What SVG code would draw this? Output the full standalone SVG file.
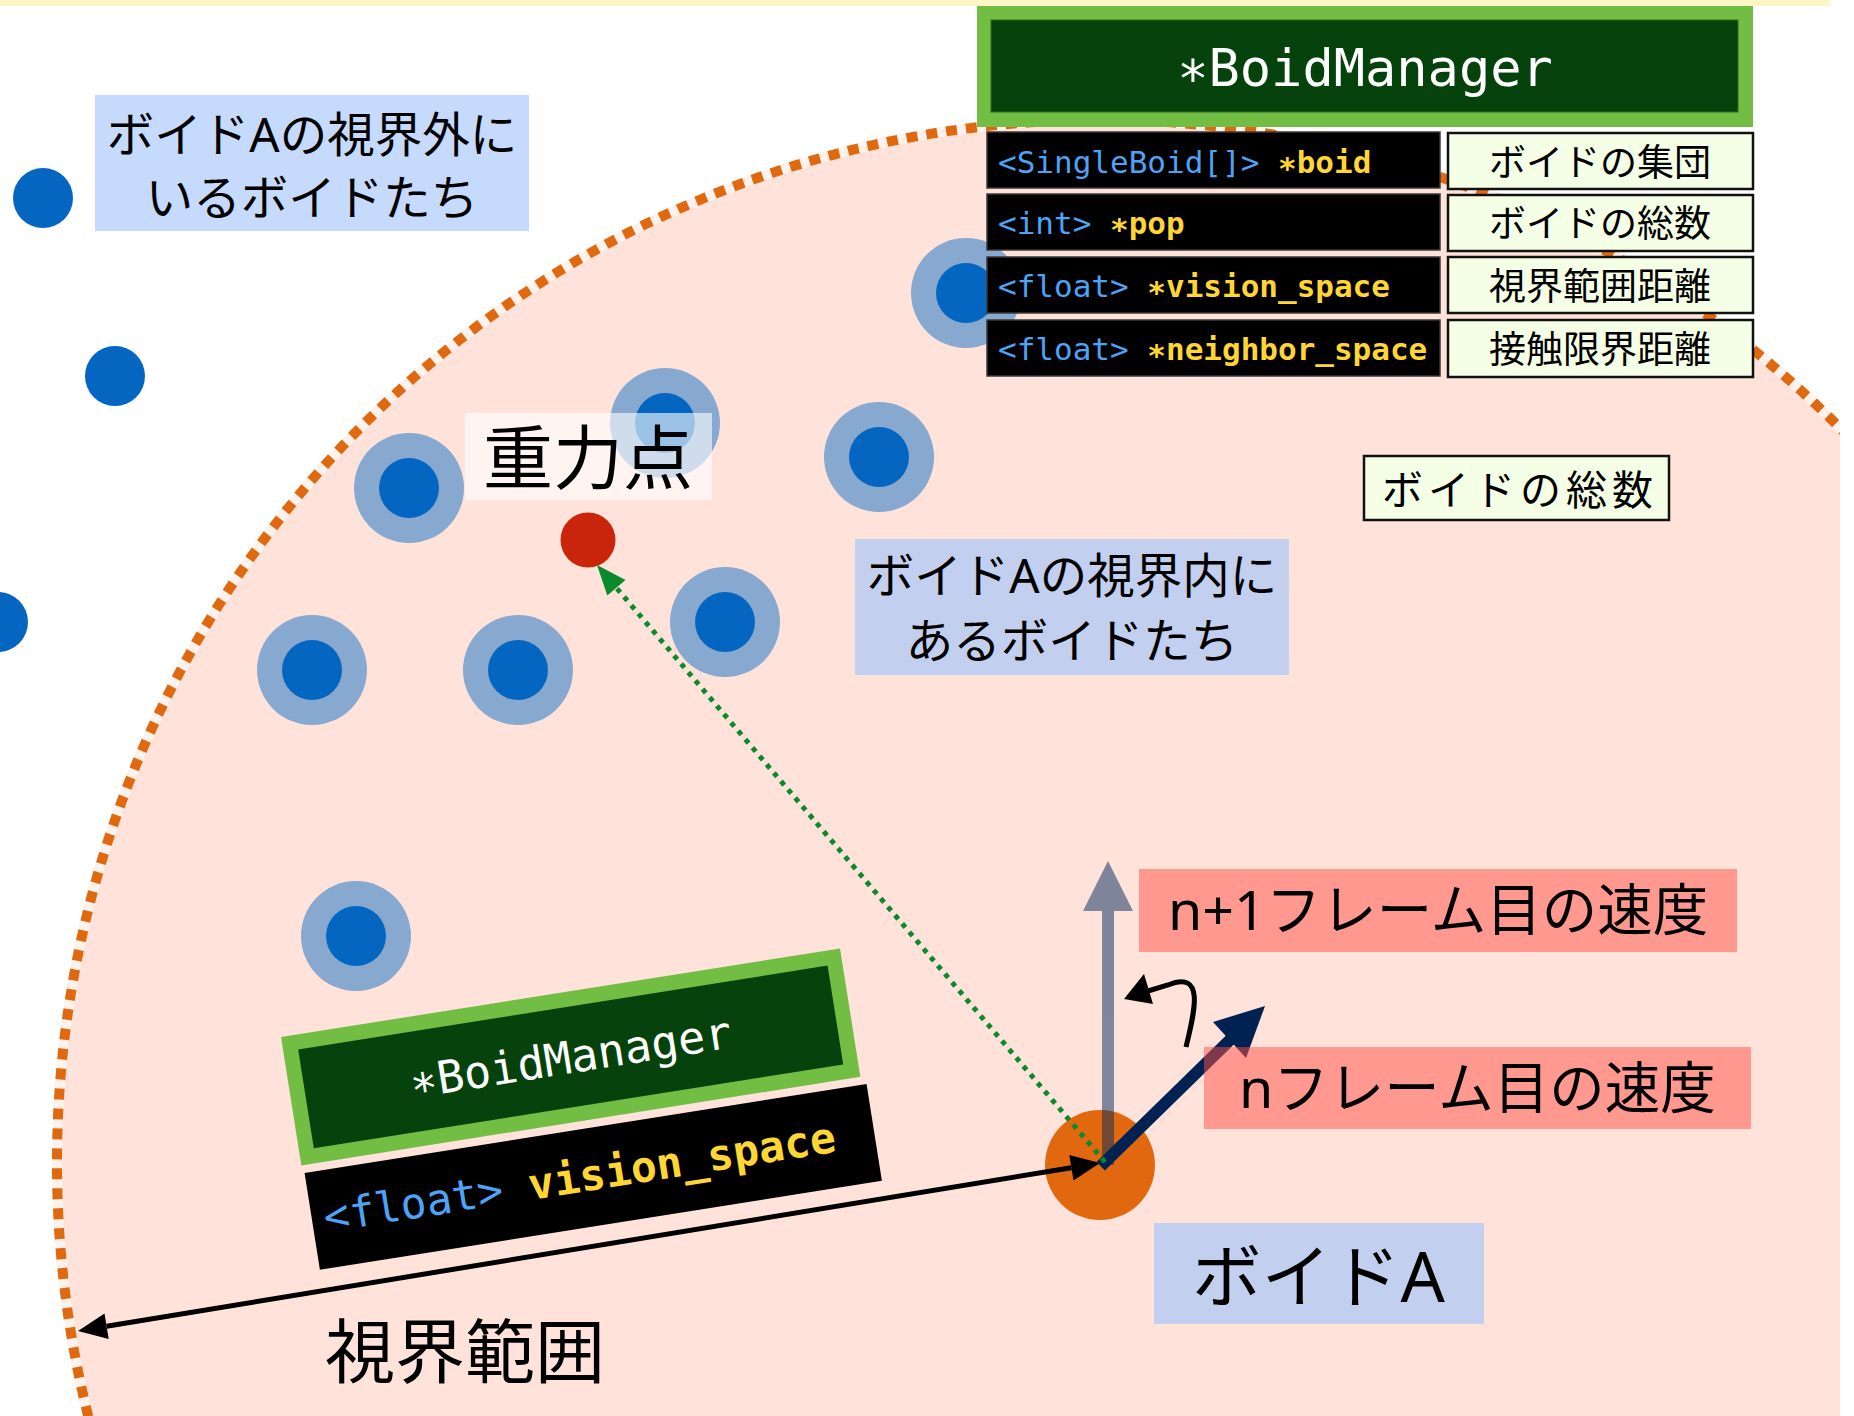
<svg xmlns="http://www.w3.org/2000/svg" width="1854" height="1416" viewBox="0 0 1854 1416">
<style>
.mono{font-family:"DejaVu Sans Mono","Liberation Mono",monospace}
.jp{font-family:"Noto Sans","Noto Sans CJK JP",sans-serif;fill:#000}
.ty{fill:#4DA3F5}
.va{fill:#FFD633;font-weight:bold}
.halo{fill:#87A8CF}
.boid{fill:#0466C1}
.row{fill:#000;stroke:#3a3a3a;stroke-width:1.5}
.cell{fill:#F5FFE6;stroke:#111;stroke-width:2.5}
.redbox{fill:#FF5046;opacity:0.5}
</style>
<defs>
<clipPath id="clipR"><rect x="0" y="0" width="1840" height="1416"/></clipPath>
</defs>
<rect width="1854" height="1416" fill="#fff"/>
<rect x="0" y="0" width="1830" height="6" fill="#FFF6C6"/>

<g id="vision-circle" clip-path="url(#clipR)">
<circle cx="1100" cy="1163" r="1043" fill="#FFE3DB"/>
<circle cx="1100" cy="1163" r="1043" fill="none" stroke="#FFF1EB" stroke-width="10"/>
<circle cx="1100" cy="1163" r="1043" fill="none" stroke="#E0690F" stroke-width="10" stroke-dasharray="11 9"/>
</g>

<g id="outside-boids">
<circle class="boid" cx="43" cy="198" r="30"/>
<circle class="boid" cx="115" cy="376" r="30"/>
<circle class="boid" cx="-2" cy="622" r="30"/>
</g>

<g id="inside-boids">
<g id="b1"><circle class="halo" cx="966" cy="293" r="55"/><circle class="boid" cx="966" cy="293" r="30"/></g>
<g id="b2"><circle class="halo" cx="665" cy="423" r="55"/><circle class="boid" cx="665" cy="423" r="30"/></g>
<g id="b3"><circle class="halo" cx="409" cy="488" r="55"/><circle class="boid" cx="409" cy="488" r="30"/></g>
<g id="b4"><circle class="halo" cx="879" cy="457" r="55"/><circle class="boid" cx="879" cy="457" r="30"/></g>
<g id="b5"><circle class="halo" cx="725" cy="622" r="55"/><circle class="boid" cx="725" cy="622" r="30"/></g>
<g id="b6"><circle class="halo" cx="312" cy="670" r="55"/><circle class="boid" cx="312" cy="670" r="30"/></g>
<g id="b7"><circle class="halo" cx="518" cy="670" r="55"/><circle class="boid" cx="518" cy="670" r="30"/></g>
<g id="b8"><circle class="halo" cx="356" cy="936" r="55"/><circle class="boid" cx="356" cy="936" r="30"/></g>
</g>

<g id="gravity-label">
<rect x="465" y="413" width="247" height="87" fill="#fff" opacity="0.6"/>
<text class="jp" x="588" y="484" font-size="70" text-anchor="middle">重力点</text>
</g>
<g id="gravity-point"><circle cx="588" cy="540" r="27.5" fill="#C8250A"/></g>

<g id="manager-table">
<rect x="977" y="6" width="776" height="121" fill="#72BE44"/>
<rect x="991" y="20" width="747" height="92" fill="#06420B" stroke="#2E6A20" stroke-width="1"/>
<text class="mono" x="1365" y="86" font-size="52" fill="#fff" text-anchor="middle"><tspan dy="11">*</tspan><tspan dy="-11">BoidManager</tspan></text>
<rect class="row" x="987" y="132" width="453" height="56"/>
<rect class="row" x="987" y="194" width="453" height="56"/>
<rect class="row" x="987" y="257" width="453" height="56"/>
<rect class="row" x="987" y="320" width="453" height="56"/>
<text class="mono" x="998" y="173" font-size="31"><tspan class="ty">&lt;SingleBoid[]&gt; </tspan><tspan class="va" dy="6">*</tspan><tspan class="va" dy="-6">boid</tspan></text>
<text class="mono" x="998" y="234" font-size="31"><tspan class="ty">&lt;int&gt; </tspan><tspan class="va" dy="6">*</tspan><tspan class="va" dy="-6">pop</tspan></text>
<text class="mono" x="998" y="297" font-size="31"><tspan class="ty">&lt;float&gt; </tspan><tspan class="va" dy="6">*</tspan><tspan class="va" dy="-6">vision_space</tspan></text>
<text class="mono" x="998" y="360" font-size="31"><tspan class="ty">&lt;float&gt; </tspan><tspan class="va" dy="6">*</tspan><tspan class="va" dy="-6">neighbor_space</tspan></text>
<rect class="cell" x="1448" y="133" width="305" height="56"/>
<rect class="cell" x="1448" y="195" width="305" height="56"/>
<rect class="cell" x="1448" y="257" width="305" height="56"/>
<rect class="cell" x="1448" y="320" width="305" height="57"/>
<text class="jp" x="1600" y="176" font-size="37" text-anchor="middle">ボイドの集団</text>
<text class="jp" x="1600" y="237" font-size="37" text-anchor="middle">ボイドの総数</text>
<text class="jp" x="1600" y="300" font-size="37" text-anchor="middle">視界範囲距離</text>
<text class="jp" x="1600" y="363" font-size="37" text-anchor="middle">接触限界距離</text>
</g>

<g id="total-note">
<rect x="1364" y="456" width="305" height="64" fill="#F5FFE6" stroke="#111" stroke-width="2.5"/>
<text class="jp" x="1382" y="505" font-size="41" letter-spacing="5">ボイドの総数</text>
</g>

<g id="outside-label">
<rect x="95" y="95" width="434" height="136" fill="#C5DAFD"/>
<text class="jp" x="312" y="152" font-size="47.5" text-anchor="middle">ボイドAの視界外に</text>
<text class="jp" x="312" y="215" font-size="47.5" text-anchor="middle">いるボイドたち</text>
</g>

<g id="inside-label">
<rect x="855" y="539" width="434" height="136" fill="#C3CFEE"/>
<text class="jp" x="1072" y="593" font-size="47.5" text-anchor="middle">ボイドAの視界内に</text>
<text class="jp" x="1072" y="658" font-size="47.5" text-anchor="middle">あるボイドたち</text>
</g>

<g id="manager-tag" transform="translate(281,1037) rotate(-9)">
<rect x="0" y="0" width="566" height="130" fill="#72BE44"/>
<rect x="15" y="15" width="536" height="100" fill="#06420B"/>
<text class="mono" x="283" y="81" font-size="45" fill="#fff" text-anchor="middle"><tspan dy="9">*</tspan><tspan dy="-9">BoidManager</tspan></text>
<rect x="2" y="138" width="569" height="98" fill="#000"/>
<text class="mono" x="14" y="200" font-size="43"><tspan class="ty">&lt;float&gt; </tspan><tspan class="va">vision_space</tspan></text>
</g>

<g id="boid-a"><circle cx="1100" cy="1165" r="55" fill="#E2680F"/></g>

<g id="connectors">
<g id="range-arrow">
<line x1="106.6" y1="1326.3" x2="1071.4" y2="1167.7" stroke="#000" stroke-width="5"/>
<polygon points="78,1331 108.7,1339.1 104.5,1313.5" fill="#000"/>
<polygon points="1100,1163 1073.5,1180.5 1069.3,1154.9" fill="#000"/>
</g>
<g id="next-velocity" opacity="0.5">
<rect x="1102" y="905" width="12" height="260" fill="#00285A"/>
<polygon points="1108,861 1133,911 1083,911" fill="#00285A"/>
</g>
<g id="current-velocity">
<line x1="1105" y1="1162" x2="1231" y2="1039" stroke="#002252" stroke-width="12" stroke-linecap="square"/>
<polygon points="1265,1006 1213,1022 1246,1058" fill="#002252"/>
</g>
<g id="to-gravity">
<line x1="1105" y1="1162" x2="616.4" y2="587.8" stroke="#0A8A2A" stroke-width="5" stroke-dasharray="5 6"/>
<polygon points="597,565 625.5,580 607.3,595.6" fill="#0A8A2A"/>
</g>
<g id="rotation">
<path d="M1186,1047 C1195,1010 1205,970 1168,985 L1148,991" fill="none" stroke="#000" stroke-width="5"/>
<polygon points="1124,999 1144,974 1153,1004" fill="#000"/>
</g>
</g>

<g id="next-velocity-label">
<rect class="redbox" x="1139" y="869" width="598" height="83"/>
<text class="jp" x="1168" y="930" font-size="55.5">n+1フレーム目の速度</text>
</g>
<g id="current-velocity-label">
<rect class="redbox" x="1204" y="1047" width="547" height="82"/>
<text class="jp" x="1239" y="1108" font-size="55.5">nフレーム目の速度</text>
</g>
<g id="boid-a-label">
<rect x="1154" y="1223" width="330" height="101" fill="#C3CFEE"/>
<text class="jp" x="1192" y="1302" font-size="69.5">ボイドA</text>
</g>
<g id="range-label">
<text class="jp" x="465" y="1378" font-size="70" text-anchor="middle">視界範囲</text>
</g>
</svg>
